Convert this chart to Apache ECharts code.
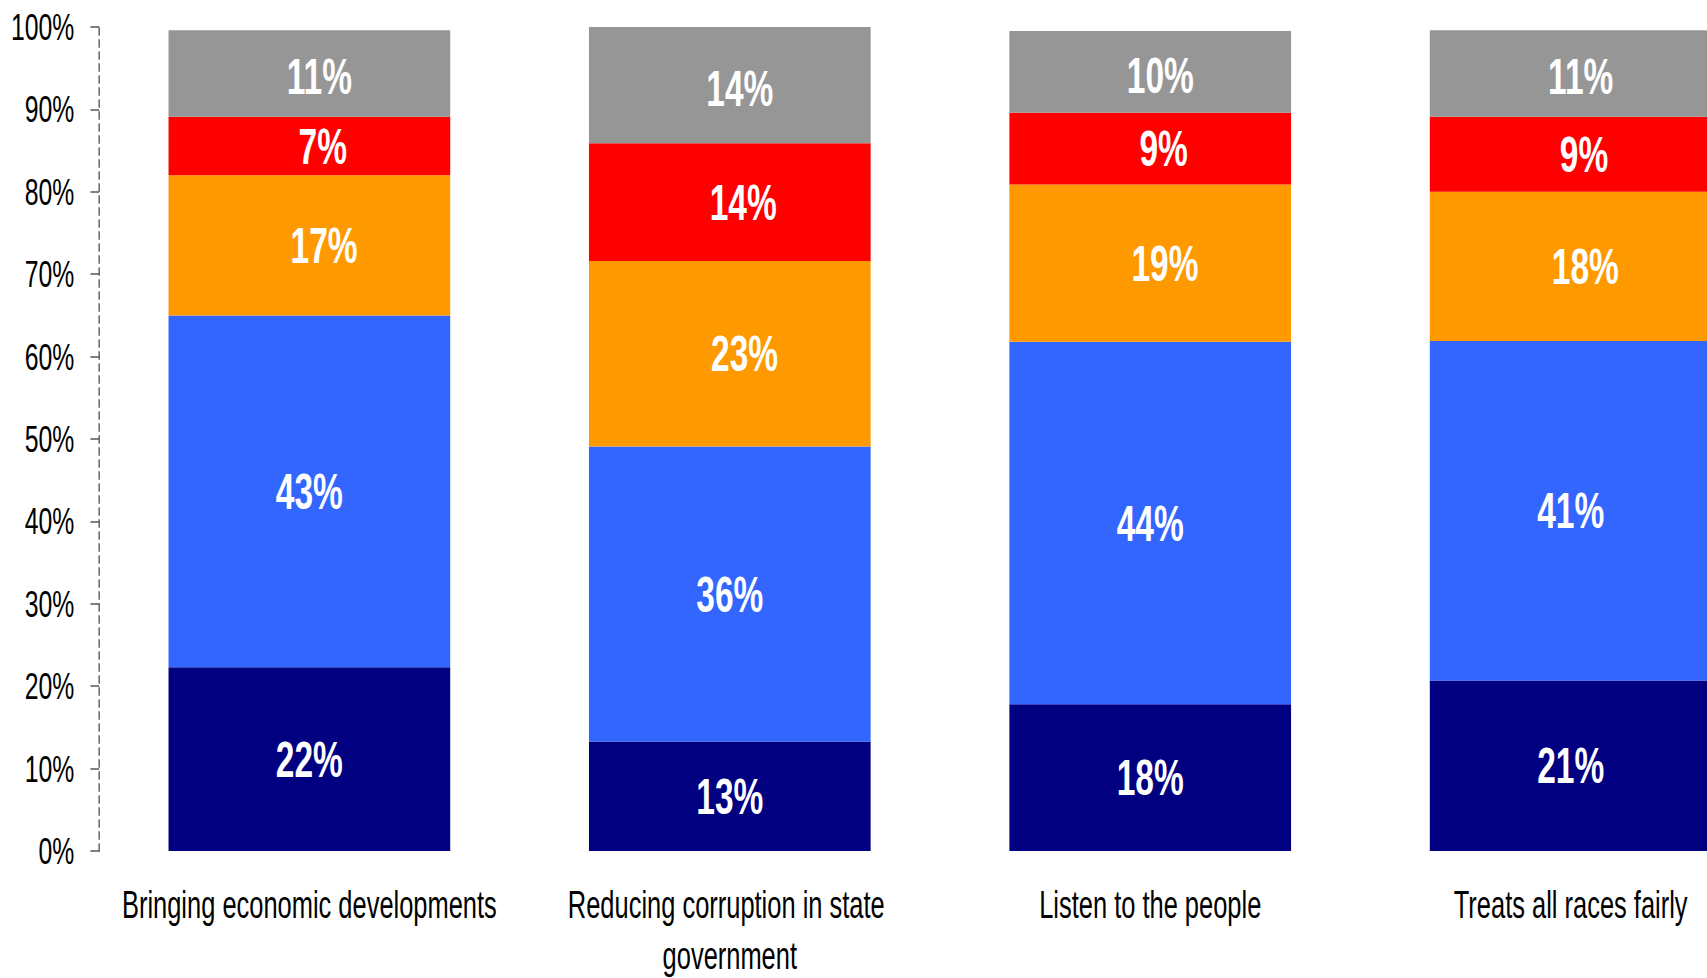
<!DOCTYPE html>
<html>
<head>
<meta charset="utf-8">
<script src="https://cdn.jsdelivr.net/npm/echarts@6/dist/echarts.min.js"></script>
<style>
  html, body { margin: 0; padding: 0; background: #fff; overflow: hidden; width: 1707px; height: 978px; }
  #wrap { width: 1707px; height: 978px; overflow: hidden; position: relative; }
  #chart { position: absolute; left: 0; top: 0; width: 2548px; height: 978px; transform: scaleX(0.67); transform-origin: 0 0; }
</style>
</head>
<body>
<div id="wrap"><div id="chart"></div></div>
<script>
// Categories (x axis)
const categories = [
  'Bringing economic developments',
  'Reducing corruption in state government',
  'Listen to the people',
  'Treats all races fairly'
];
// Stacked segment values (%), bottom to top
const navyValues   = [22.3, 13.3, 17.8, 20.7];
const blueValues   = [42.7, 35.8, 44.0, 41.2];
const orangeValues = [17.0, 22.5, 19.1, 18.1];
const redValues    = [7.1, 14.3, 8.7, 9.1];
const grayValues   = [10.5, 14.1, 9.9, 10.5];
// Y tick labels
const yTickLabels = ['0%', '10%', '20%', '30%', '40%', '50%', '60%', '70%', '80%', '90%', '100%'];

const FONT = '"Liberation Sans", Arial, sans-serif';

function makeSeries(name, data, color, offsetX, offsetY) {
  return {
    name: name,
    type: 'bar',
    stack: 'total',
    data: data,
    barWidth: '67%',
    itemStyle: { color: color },
    label: {
      show: true,
      position: 'inside',
      offset: [offsetX, offsetY],
      color: '#ffffff',
      fontFamily: FONT,
      fontWeight: 'bold',
      fontSize: 50,
      formatter: function (p) { return Math.round(p.value) + '%'; }
    }
  };
}

const chart = echarts.init(document.getElementById('chart'), null, { renderer: 'svg' });
chart.setOption({
  backgroundColor: '#ffffff',
  animation: false,
  grid: { left: 148, top: 27, width: 2510, bottom: 127, containLabel: false, outerBoundsMode: 'none' },
  xAxis: {
    type: 'category',
    data: categories,
    axisLine: { show: false },
    axisTick: { show: false },
    axisLabel: {
      interval: 0,
      margin: 29,
      color: '#000000',
      fontFamily: FONT,
      fontSize: 38,
      lineHeight: 51,
      width: 620,
      overflow: 'break'
    }
  },
  yAxis: {
    type: 'value',
    min: 0,
    max: 100,
    interval: 10,
    splitLine: { show: false },
    axisLine: { show: true, lineStyle: { color: '#555555', width: 2, type: [7, 5] } },
    axisTick: { show: true, length: 13, lineStyle: { color: '#555555', width: 1.5 } },
    axisLabel: {
      margin: 37,
      color: '#000000',
      fontFamily: FONT,
      fontSize: 37,
      formatter: function (v) { return yTickLabels[Math.round(v / 10)]; }
    }
  },
  series: [
    makeSeries('Segment 1', navyValues, '#000080', 0, 0),
    makeSeries('Segment 2', blueValues, '#3366FF', 0, 0),
    makeSeries('Segment 3', orangeValues, '#FF9900', 22, 0),
    makeSeries('Segment 4', redValues, '#FF0000', 20, 0),
    makeSeries('Segment 5', grayValues, '#969696', 15, 3)
  ]
});
</script>
</body>
</html>
